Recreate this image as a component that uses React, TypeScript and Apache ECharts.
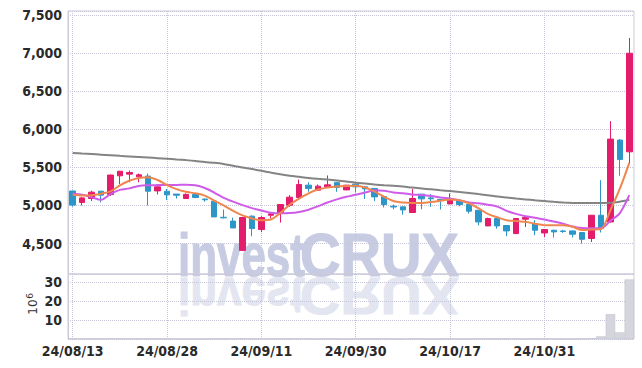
import React, { useEffect, useRef } from 'react';
import * as echarts from 'echarts';

const dates = [
  '24/08/13','24/08/14','24/08/16','24/08/19','24/08/20','24/08/21','24/08/22','24/08/23','24/08/26','24/08/27',
  '24/08/28','24/08/29','24/08/30','24/09/02','24/09/03','24/09/04','24/09/05','24/09/06','24/09/09','24/09/10',
  '24/09/11','24/09/12','24/09/13','24/09/19','24/09/20','24/09/23','24/09/24','24/09/25','24/09/26','24/09/27',
  '24/09/30','24/10/02','24/10/04','24/10/07','24/10/08','24/10/10','24/10/11','24/10/14','24/10/15','24/10/16',
  '24/10/17','24/10/18','24/10/21','24/10/22','24/10/23','24/10/24','24/10/25','24/10/28','24/10/29','24/10/30',
  '24/10/31','24/11/01','24/11/04','24/11/05','24/11/06','24/11/07','24/11/08','24/11/11','24/11/12','24/11/13',
];

const opens = [
  5190,5040,5092,5188,5145,5390,5412,5376,5386,5192,
  5188,5150,5092,5145,5085,5057,4845,4795,4410,4860,
  4684,4872,4895,5004,5105,5267,5201,5245,5300,5205,
  5280,5245,5224,5118,4990,4982,4908,5149,5100,5080,
  5021,5060,5013,4938,4732,4829,4737,4631,4820,4763,
  4639,4675,4665,4666,4645,4566,4872,4784,5859,5705,
];
const closes = [
  5005,5100,5175,5136,5400,5450,5434,5403,5188,5245,
  5140,5135,5145,5105,5075,4850,4838,4705,4842,4697,
  4842,4890,5013,5109,5276,5224,5254,5271,5237,5267,
  5245,5218,5113,5013,4980,4942,5092,5087,5088,5066,
  5083,5013,4925,4784,4829,4732,4666,4829,4842,4675,
  4684,4653,4658,4622,4556,4872,4697,5872,5605,7000,
];
const lows = [
  4985,5000,5060,5040,5125,5280,5305,5305,5000,5145,
  5070,5092,5090,5095,5050,4850,4830,4705,4410,4595,
  4650,4830,4775,4982,5080,5180,5195,5240,5180,5200,
  5170,5085,5057,4975,4950,4880,4905,4950,4982,4947,
  5015,4990,4895,4740,4728,4695,4596,4625,4718,4610,
  4587,4580,4640,4580,4500,4520,4645,4776,5390,5545,
];
const highs = [
  5195,5110,5195,5190,5405,5455,5460,5420,5420,5250,
  5218,5150,5160,5150,5090,5060,4947,4840,4850,4870,
  4860,4895,5020,5136,5340,5305,5276,5395,5305,5270,
  5285,5250,5230,5120,5013,4985,5218,5150,5150,5085,
  5158,5065,5015,4940,4840,4835,4740,4835,4845,4807,
  4690,4680,4680,4670,4650,4875,5333,6108,5872,7200,
];

// orange line
const maShort = [
  5140,5130,5135,5155,5185,5265,5325,5362,5372,5335,
  5268,5215,5180,5160,5130,5065,5000,4930,4870,4830,
  4805,4815,4900,5010,5090,5160,5210,5235,5250,5256,
  5258,5237,5182,5115,5060,5040,5034,5034,5045,5062,
  5079,5070,5030,4965,4890,4845,4807,4797,4785,4760,
  4742,4741,4740,4720,4678,4684,4690,4940,5220,5560,
];
// purple line
const maMid = [
  5158,5140,5110,5075,5150,5205,5225,5255,5265,5268,
  5270,5270,5272,5265,5230,5170,5100,5050,5005,4965,
  4935,4905,4897,4900,4915,4945,4990,5040,5080,5115,
  5140,5170,5200,5195,5170,5160,5145,5138,5125,5105,
  5090,5070,5040,5030,5010,4985,4930,4890,4860,4840,
  4815,4790,4760,4725,4705,4700,4700,4800,4900,5135,
];
// gray line
const maLong = [
  5690,5682,5675,5668,5660,5652,5645,5638,5630,5622,
  5614,5605,5596,5585,5570,5560,5545,5521,5500,5478,
  5455,5432,5410,5392,5377,5362,5350,5340,5328,5315,
  5300,5288,5276,5266,5258,5250,5235,5222,5212,5200,
  5190,5178,5165,5150,5135,5118,5105,5092,5080,5068,
  5058,5048,5040,5034,5032,5032,5033,5035,5050,5075,
];
// volume, x10^6
const volumes = [
  0.21,0.15,0.12,0.1,0.35,0.25,0.15,0.12,0.22,0.1,
  0.12,0.08,0.07,0.08,0.07,0.2,0.12,0.15,0.4,0.2,
  0.15,0.08,0.15,0.12,0.25,0.1,0.08,0.15,0.09,0.08,
  0.07,0.1,0.12,0.1,0.07,0.08,0.2,0.1,0.08,0.06,
  0.1,0.07,0.09,0.15,0.1,0.1,0.12,0.15,0.06,0.1,
  0.08,0.06,0.05,0.07,0.1,0.4,1.4,13.2,3.5,31.6,
];

const UP = '#e31c6c';
const DOWN = '#2d96c9';
const GRID = '#c6c6d8';
const BORDER = '#cbcbd9';
const FONT = "'DejaVu Sans Condensed', 'Liberation Sans Narrow', 'Roboto', sans-serif";
const WM_FONT = "bold 61px 'Liberation Sans', Arial, sans-serif";
const WM_FILL = '#c7cce3';
const WM_REFL = '#e3e6f1';

export default function App() {
  const ref = useRef<HTMLDivElement>(null);
  useEffect(() => {
    const chart = echarts.init(ref.current!, null, { renderer: 'svg' });
    const candle = dates.map((_, i) => [opens[i], closes[i], lows[i], highs[i]]);
    const labelDates = dates.filter((_, i) => i % 10 === 0);
    const vLines = {
      silent: true,
      symbol: 'none',
      label: { show: false },
      emphasis: { disabled: true },
      lineStyle: { type: 'dotted', color: GRID, width: 1 },
      data: labelDates.map((d) => ({ xAxis: d })),
    };
    const labelStyle = { fontFamily: FONT, fontSize: 14, fontWeight: 'bold' as const, color: '#2a2a2a' };
    const wm = (text: string, x: number, sx: number, y: number, sy: number, fill: string) => ({
      type: 'text', x, y, scaleX: sx, scaleY: sy, z: -1, silent: true,
      style: {
        text, font: WM_FONT, fill, stroke: fill, lineWidth: 1.2,
        align: 'left', verticalAlign: 'middle',
      },
    });
    chart.setOption({
      animation: false,
      grid: [
        { left: 68, right: 8, top: 11, height: 263, show: true, borderColor: BORDER, borderWidth: 1 },
        { left: 68, right: 8, top: 274, height: 65, show: true, borderColor: BORDER, borderWidth: 1 },
      ],
      xAxis: [
        {
          type: 'category', gridIndex: 0, data: dates, boundaryGap: true,
          axisLine: { show: false }, axisTick: { show: false }, axisLabel: { show: false },
          splitLine: { show: false },
        },
        {
          type: 'category', gridIndex: 1, data: dates, boundaryGap: true,
          axisLine: { show: false }, axisTick: { show: false },
          axisLabel: { ...labelStyle, interval: 9, margin: 5 },
          splitLine: { show: false },
        },
      ],
      yAxis: [
        {
          type: 'value', gridIndex: 0, min: 4100, max: 7555, splitNumber: 5,
          axisLine: { show: true, lineStyle: { color: BORDER } }, axisTick: { show: false },
          axisLabel: {
            ...labelStyle, margin: 6, showMinLabel: false, showMaxLabel: false,
            formatter: (v: number) => v.toLocaleString('en-US'),
          },
          splitLine: { show: true, lineStyle: { type: 'dotted', color: GRID, width: 1 } },
        },
        {
          type: 'value', gridIndex: 1, min: 0, max: 34.5, interval: 10,
          axisLine: { show: true, lineStyle: { color: BORDER } }, axisTick: { show: false },
          axisLabel: { ...labelStyle, margin: 6, showMinLabel: false, showMaxLabel: false },
          splitLine: { show: true, lineStyle: { type: 'dotted', color: GRID, width: 1 } },
        },
      ],
      graphic: [
        wm('invest', 178, 0.72, 255, 1, WM_FILL),
        wm('CRUX', 300, 0.92, 255, 1, WM_FILL),
        wm('invest', 178, 0.72, 296, -0.85, WM_REFL),
        wm('CRUX', 300, 0.92, 296, -0.85, WM_REFL),
        {
          type: 'text', x: 33, y: 307, rotation: Math.PI / 2, z: 10,
          style: { text: '10', font: "12px 'DejaVu Sans', sans-serif", fill: '#333', align: 'center', verticalAlign: 'middle' },
        },
        {
          type: 'text', x: 30, y: 296, rotation: Math.PI / 2, z: 10,
          style: { text: '6', font: "9px 'DejaVu Sans', sans-serif", fill: '#333', align: 'center', verticalAlign: 'middle' },
        },
      ],
      series: [
        {
          type: 'candlestick', xAxisIndex: 0, yAxisIndex: 0, data: candle, barWidth: 6, z: 5,
          itemStyle: { color: UP, color0: DOWN, borderColor: UP, borderColor0: DOWN, borderWidth: 1 },
          markLine: vLines,
        },
        {
          type: 'line', xAxisIndex: 0, yAxisIndex: 0, data: maLong, symbol: 'none', smooth: 0.3, z: 6,
          lineStyle: { color: '#848484', width: 2 },
        },
        {
          type: 'line', xAxisIndex: 0, yAxisIndex: 0, data: maMid, symbol: 'none', smooth: 0.3, z: 6,
          lineStyle: { color: '#cf5ce9', width: 2 },
        },
        {
          type: 'line', xAxisIndex: 0, yAxisIndex: 0, data: maShort, symbol: 'none', smooth: 0.3, z: 6,
          lineStyle: { color: '#f0864f', width: 2 },
        },
        {
          type: 'bar', xAxisIndex: 1, yAxisIndex: 1, data: volumes, barWidth: '100%', z: 5,
          itemStyle: { color: '#d5d5de', borderColor: '#c2c2ce', borderWidth: 0.6 },
          markLine: vLines,
        },
      ],
    });
    return () => chart.dispose();
  }, []);
  return <div ref={ref} style={{ position: 'absolute', left: 0, top: 0, width: 642, height: 368 }} />;
}
